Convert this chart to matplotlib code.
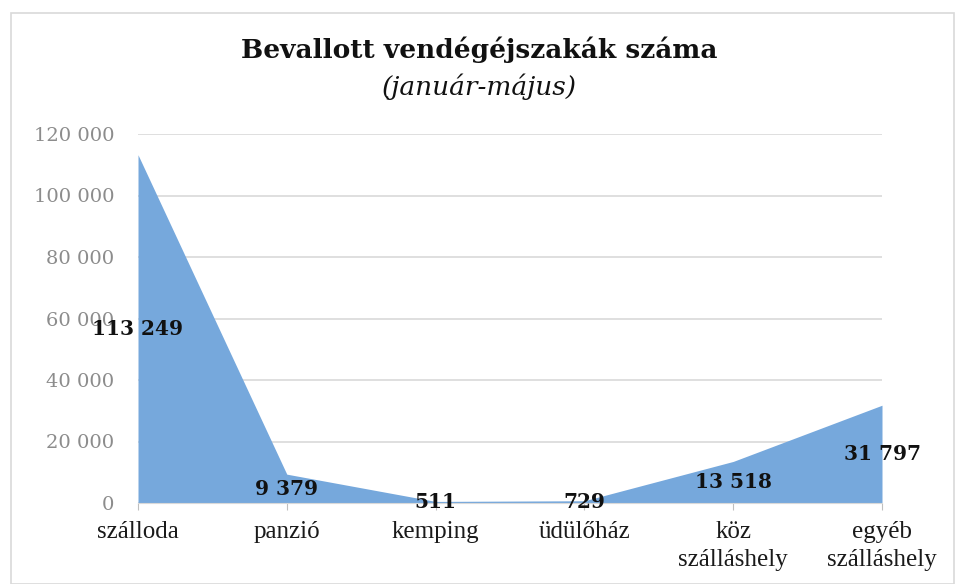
import matplotlib
matplotlib.use("Agg")
import matplotlib.pyplot as plt
from matplotlib.patches import Rectangle

categories = ["szálloda", "panzió", "kemping", "üdülőház", "köz\nszálláshely", "egyéb\nszálláshely"]
values = [113249, 9379, 511, 729, 13518, 31797]
labels = ["113 249", "9 379", "511", "729", "13 518", "31 797"]
yticks = [0, 20000, 40000, 60000, 80000, 100000, 120000]
yticklabels = ["0", "20 000", "40 000", "60 000", "80 000", "100 000", "120 000"]

fig = plt.figure(figsize=(9.58, 5.84), dpi=100)
fig.patches.append(Rectangle((0.011, 0.0), 0.985, 0.978, transform=fig.transFigure,
                             fill=False, edgecolor="#d9d9d9", linewidth=1.2))
ax = fig.add_axes([138/958, 1 - 503/584, (882-138)/958, (503-134)/584])

x = list(range(len(categories)))
ax.fill_between(x, values, 0, color="#76a8dc", linewidth=0, zorder=2)
ax.set_xlim(0, 5)
ax.set_ylim(0, 120000)
ax.set_yticks(yticks)
ax.set_yticklabels(yticklabels, family="DejaVu Serif", color="#8c8c8c", fontsize=14)
ax.set_xticks(x)
ax.set_xticklabels(categories, family="Liberation Serif", fontsize=18, color="#1a1a1a", linespacing=1.35)
ax.tick_params(axis="y", length=0, pad=17)
ax.tick_params(axis="x", length=5, color="#bfbfbf", pad=8)
for s in ["top", "right", "left"]:
    ax.spines[s].set_visible(False)
ax.spines["bottom"].set_color("#d9d9d9")
ax.grid(axis="y", color="#d9d9d9", linewidth=1.2, zorder=1)
ax.set_axisbelow(True)

for xi, v, lab in zip(x, values, labels):
    ax.text(xi, v / 2, lab, ha="center", va="center", family="DejaVu Serif",
            fontweight="bold", fontsize=14.5, color="#111111", zorder=5, clip_on=False)

fig.text(0.5, 1 - 50/584, "Bevallott vendégéjszakák száma", ha="center", va="center",
         family="DejaVu Serif", fontweight="bold", fontsize=19, color="#111111")
fig.text(0.5, 1 - 87/584, "(január-május)", ha="center", va="center",
         family="DejaVu Serif", style="italic", fontsize=19, color="#111111")

fig.savefig("out.png", dpi=100)
